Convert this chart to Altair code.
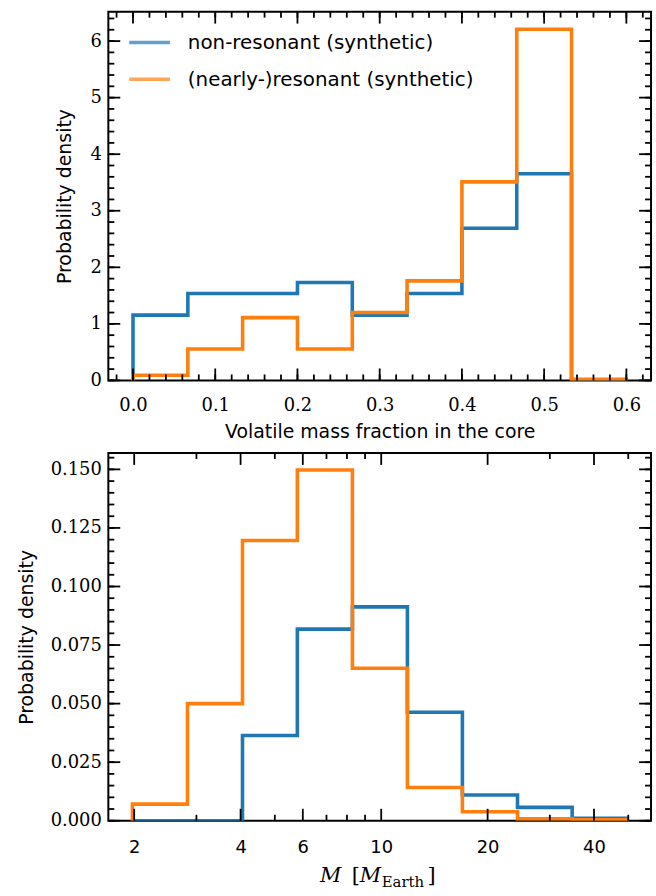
import altair as alt
import pandas as pd

# ---- histogram data (probability densities per bin) ----
series_names = ["non-resonant (synthetic)", "(nearly-)resonant (synthetic)"]
series_colors = ["#1f77b4", "#ff7f0e"]

# volatile mass fraction in the core
vmf_edges = [0.0, 0.0667, 0.1333, 0.2, 0.2667, 0.3333, 0.4, 0.4667, 0.5333, 0.6]
vmf_nonres = [1.154, 1.538, 1.538, 1.731, 1.154, 1.538, 2.692, 3.654, 0.0]
vmf_res = [0.09, 0.556, 1.11, 0.556, 1.20, 1.76, 3.51, 6.21, 0.02]

# planet mass in Earth masses (log-spaced bins)
mass_edges = [1.977, 2.83, 4.05, 5.79, 8.29, 11.86, 16.97, 24.3, 34.7, 49.7]
mass_nonres = [0.0, 0.0, 0.0364, 0.0818, 0.0913, 0.0463, 0.0110, 0.0057, 0.0010]
mass_res = [0.0071, 0.0500, 0.1196, 0.1497, 0.0651, 0.0142, 0.0038, 0.0008, 0.0004]

# axis tick positions
vmf_major = [0.0, 0.1, 0.2, 0.3, 0.4, 0.5, 0.6]
vmf_minor = [round(-0.02 + 0.02 * i, 2) for i in range(33)]
dens1_major = [0, 1, 2, 3, 4, 5, 6]
dens1_minor = [round(0.2 * i, 1) for i in range(33)]
mass_major = [2, 4, 6, 10, 20, 40]
mass_minor = [3, 5, 7, 8, 9, 30, 50]
dens2_major = [0.0, 0.025, 0.05, 0.075, 0.1, 0.125, 0.15]
dens2_minor = [round(0.005 * i, 3) for i in range(32)]

W = 546
H1 = 371
H2 = 370
MAJOR = 12
MINOR = 6
LW = 3.6
SERIF = "DejaVu Serif"
SANS = "DejaVu Sans"


def step_outline(edges, dens, name):
    """Outline of a step histogram: up the first edge, across each bin, down the last edge."""
    xs, ys = [edges[0]], [0.0]
    for i, d in enumerate(dens):
        xs += [edges[i], edges[i + 1]]
        ys += [d, d]
    xs.append(edges[-1])
    ys.append(0.0)
    return pd.DataFrame({"x": xs, "y": ys, "order": range(len(xs)), "series": name})


def tick_layers(xvals_major, xvals_minor, yvals_major, yvals_minor, xenc, yenc, h):
    """Inward-pointing major/minor ticks on all four sides of the frame."""
    layers = []
    for vals, ln in ((xvals_major, MAJOR), (xvals_minor, MINOR)):
        df = pd.DataFrame({"v": vals})
        base = alt.Chart(df).mark_rule(color="black", strokeWidth=1.8)
        layers.append(base.encode(x=xenc("v"), y=alt.value(h), y2=alt.value(h - ln)))
        layers.append(base.encode(x=xenc("v"), y=alt.value(0), y2=alt.value(ln)))
    for vals, ln in ((yvals_major, MAJOR), (yvals_minor, MINOR)):
        df = pd.DataFrame({"v": vals})
        base = alt.Chart(df).mark_rule(color="black", strokeWidth=1.8)
        layers.append(base.encode(y=yenc("v"), x=alt.value(0), x2=alt.value(ln)))
        layers.append(base.encode(y=yenc("v"), x=alt.value(W), x2=alt.value(W - ln)))
    return layers


color_enc = alt.Color("series:N", scale=alt.Scale(domain=series_names, range=series_colors),
                      legend=None)

# ---------------- top panel ----------------
top_df = pd.concat([step_outline(vmf_edges, vmf_nonres, series_names[0]),
                    step_outline(vmf_edges, vmf_res, series_names[1])])
x1_scale = alt.Scale(domain=[-0.03, 0.63], nice=False, zero=False)
y1_scale = alt.Scale(domain=[0, 6.52], nice=False)
x1_axis = alt.Axis(
    values=vmf_major, format=".1f", ticks=False, domain=False, grid=False,
    labelFont=SERIF, labelFontSize=18, labelPadding=16, labelColor="black",
    title="Volatile mass fraction in the core", titleFont=SANS, titleFontSize=19,
    titleFontWeight="normal", titlePadding=8, titleColor="black")
y1_axis = alt.Axis(
    values=dens1_major, format="d", ticks=False, domain=False, grid=False,
    labelFont=SERIF, labelFontSize=18, labelPadding=7, labelColor="black",
    title="Probability density", titleFont=SANS, titleFontSize=19,
    titleFontWeight="normal", titlePadding=16, titleColor="black")


def x1(f):
    return alt.X(f"{f}:Q", scale=x1_scale, axis=x1_axis, title="Volatile mass fraction in the core")


def y1(f):
    return alt.Y(f"{f}:Q", scale=y1_scale, axis=y1_axis, title="Probability density")


top_lines = alt.Chart(top_df).mark_line(strokeWidth=LW, strokeJoin="miter", clip=True).encode(
    x=x1("x"), y=y1("y"), color=color_enc, order="order:Q", detail="series:N",
)

# legend in the upper-left corner of the top panel
legend_layers = []
for i, (name, col) in enumerate(zip(series_names, series_colors)):
    row_y = 31 + 37 * i
    legend_layers.append(
        alt.Chart(pd.DataFrame({"series": [name]})).mark_rule(
            color=col, strokeWidth=LW, opacity=0.7
        ).encode(x=alt.value(21), x2=alt.value(62), y=alt.value(row_y))
    )
    legend_layers.append(
        alt.Chart(pd.DataFrame({"series": [name]})).mark_text(
            align="left", baseline="middle", font=SANS, fontSize=20, color="black"
        ).encode(text="series:N", x=alt.value(80), y=alt.value(row_y + 1))
    )

top = alt.layer(top_lines, *tick_layers(vmf_major, vmf_minor, dens1_major, dens1_minor,
                                        x1, y1, H1), *legend_layers).properties(width=W, height=H1)

# ---------------- bottom panel ----------------
bot_df = pd.concat([step_outline(mass_edges, mass_nonres, series_names[0]),
                    step_outline(mass_edges, mass_res, series_names[1])])
x2_scale = alt.Scale(type="log", domain=[1.69, 58.0], nice=False)
y2_scale = alt.Scale(domain=[0, 0.157], nice=False)
x2_axis = alt.Axis(
    values=mass_major, format="d", ticks=False, domain=False, grid=False,
    labelFont=SANS, labelFontSize=18, labelPadding=18, labelColor="black", title=None)
y2_axis = alt.Axis(
    values=dens2_major, format=".3f", ticks=False, domain=False, grid=False,
    labelFont=SERIF, labelFontSize=18, labelPadding=7, labelColor="black",
    title="Probability density", titleFont=SANS, titleFontSize=19,
    titleFontWeight="normal", titlePadding=14, titleColor="black")


def x2(f):
    return alt.X(f"{f}:Q", scale=x2_scale, axis=x2_axis, title=None)


def y2(f):
    return alt.Y(f"{f}:Q", scale=y2_scale, axis=y2_axis, title="Probability density")


bot_lines = alt.Chart(bot_df).mark_line(strokeWidth=LW, strokeJoin="miter", clip=True).encode(
    x=x2("x"), y=y2("y"), color=color_enc, order="order:Q", detail="series:N",
)

# x-axis title  M [M_Earth]
title_parts = [
    ("M", 213, 0, 21, "italic", SERIF),
    ("[", 245, 0, 21, "normal", SERIF),
    ("M", 253, 0, 21, "italic", SERIF),
    ("Earth", 275, 5, 15, "normal", SERIF),
    ("]", 321, 0, 21, "normal", SERIF),
]
title_layers = []
for txt, xpos, dy, size, style, font in title_parts:
    title_layers.append(
        alt.Chart(pd.DataFrame({"t": [txt]})).mark_text(
            align="left", baseline="alphabetic", font=font, fontSize=size,
            fontStyle=style, color="black", clip=False
        ).encode(text="t:N", x=alt.value(xpos), y=alt.value(H2 + 62 + dy))
    )

bottom = alt.layer(bot_lines, *tick_layers(mass_major, mass_minor, dens2_major, dens2_minor,
                                           x2, y2, H2), *title_layers).properties(width=W, height=H2)

chart = alt.vconcat(top, bottom, spacing=9).resolve_scale(
    color="independent", x="independent", y="independent"
).properties(
    padding={"left": 16, "top": 7, "right": 3, "bottom": 5}
).configure_view(stroke="black", strokeWidth=2)

chart.save("out.html", embed_options={"renderer": "svg", "actions": False})
